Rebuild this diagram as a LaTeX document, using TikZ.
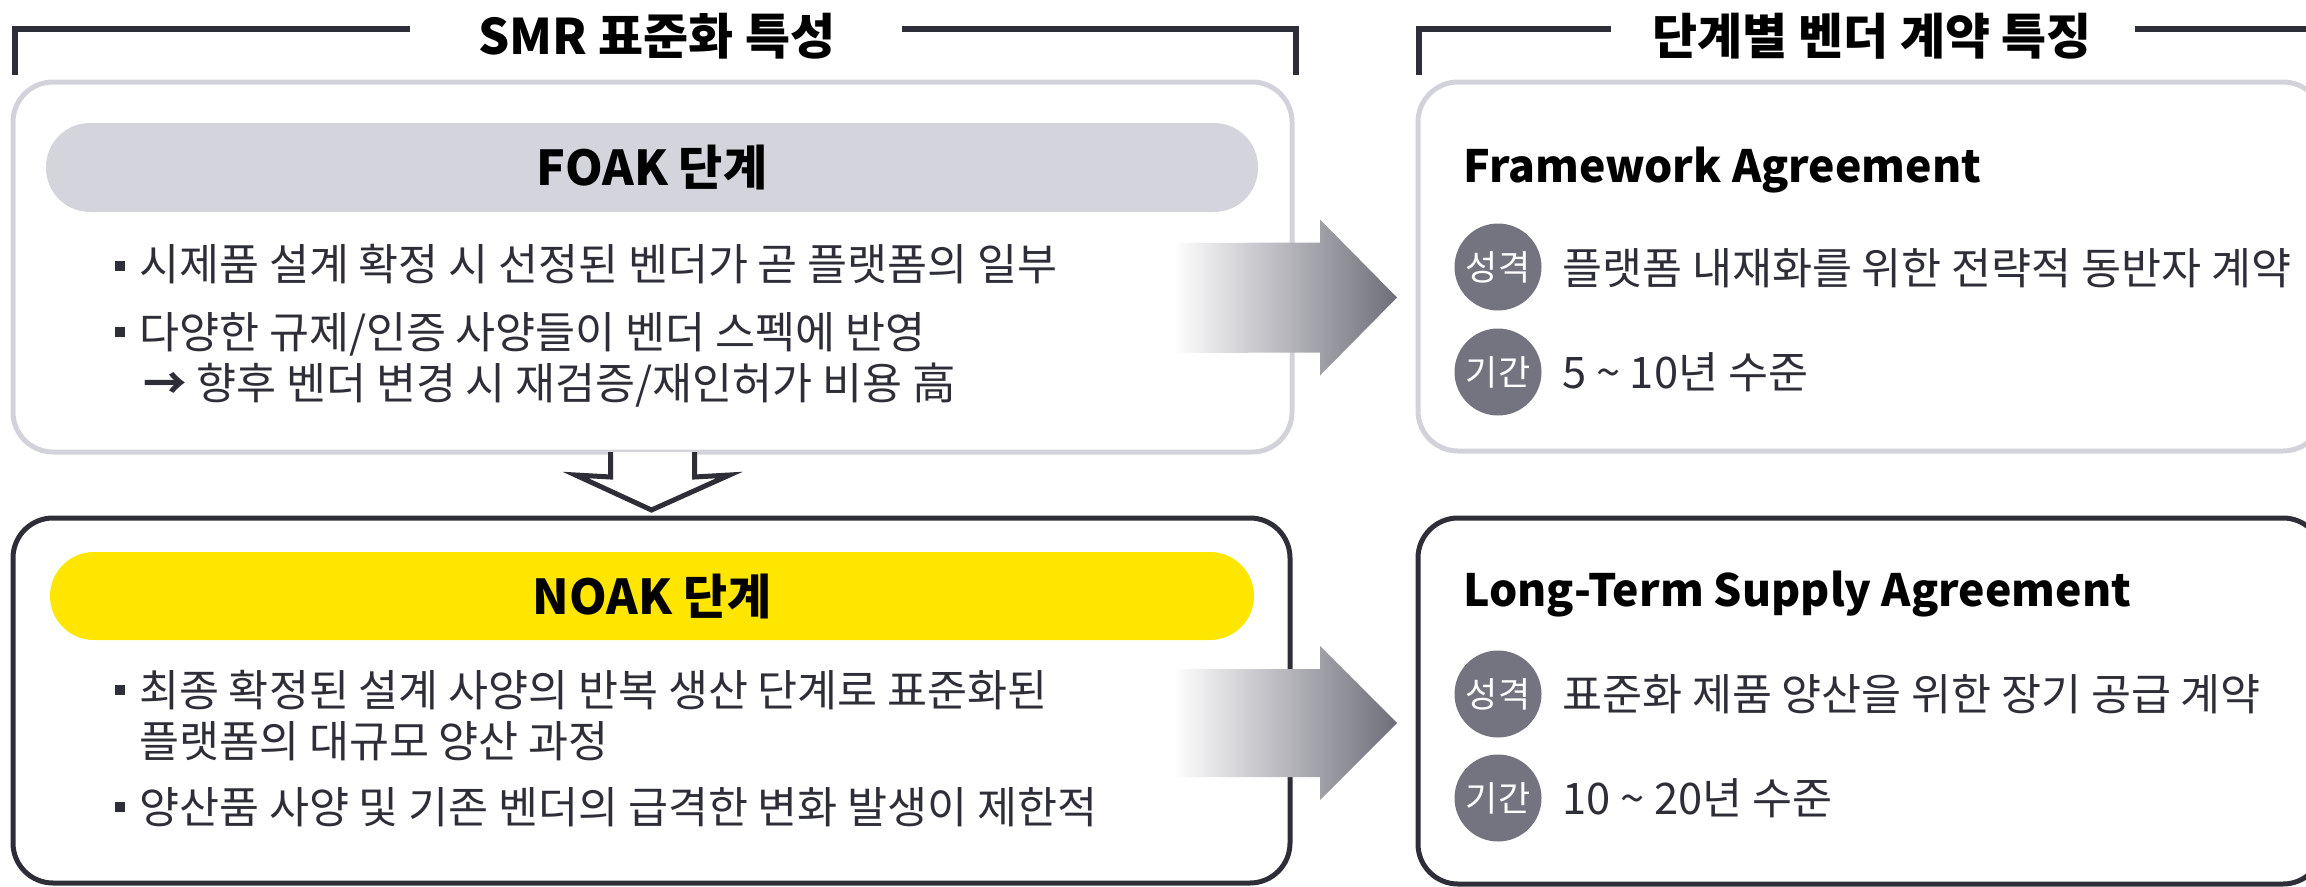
\documentclass[tikz,border=0pt]{standalone}
\usepackage{fontspec}
\setmainfont{Noto Sans CJK KR}
\usetikzlibrary{calc}
\definecolor{eydark}{HTML}{2E2E38}
\definecolor{eylight}{HTML}{D2D2DA}
\definecolor{eypill}{HTML}{D4D4DC}
\definecolor{eyyellow}{HTML}{FFE600}
\definecolor{eycircle}{HTML}{747480}
\definecolor{eytext}{HTML}{2E2E38}
\begin{document}
\begin{tikzpicture}[x=1pt,y=-1pt,
  panel/.style={draw, line width=5pt, rounded corners=40pt, inner sep=0pt, outer sep=0pt},
  pill/.style={rounded corners=44pt, inner sep=0pt, outer sep=0pt, text=black,
    font=\fontsize{48pt}{54pt}\selectfont\bfseries},
  body/.style={anchor=base west, inner sep=0pt, text=eytext,
    font=\fontsize{43.5pt}{50pt}\selectfont},
  sq/.style={fill=eytext, minimum size=10pt, inner sep=0pt},
  heads/.style={anchor=base, inner sep=0pt, text=black,
    font=\fontsize{49pt}{56pt}\selectfont\bfseries},
  cardtitle/.style={anchor=base west, inner sep=0pt, text=black,
    font=\fontsize{44.5pt}{52pt}\selectfont\bfseries},
  badge/.style={circle, fill=eycircle, minimum size=87pt, inner sep=0pt, text=white,
    font=\fontsize{35pt}{40pt}\selectfont},
  bracketline/.style={draw=eydark, line width=6pt, line join=miter},
  gradarrow/.style={left color=white, right color=eycircle!95!black},
  downarrow/.style={draw=eydark, line width=5pt, line join=miter, fill=white}]
\useasboundingbox (0,0) rectangle (2306,886);
\clip (0,0) rectangle (2306,886);

% section titles and brackets
\node[heads] (t1) at (657,54) {SMR 표준화 특성};
\node[heads] (t2) at (1872,54) {단계별 벤더 계약 특징};
\draw[bracketline] (15,75) -- (15,29) -- (410,29);
\draw[bracketline] (902,29) -- (1296,29) -- (1296,75);
\draw[bracketline] (1419,75) -- (1419,29) -- (1611,29);
\draw[bracketline] (2135,29) -- (2330,29);

% panels
\node[panel, draw=eylight, minimum width=1279pt, minimum height=370pt] (foak) at (652.5,267) {};
\node[panel, draw=eydark, minimum width=1277pt, minimum height=365pt] (noak) at (651.5,700.5) {};
\node[panel, draw=eylight, minimum width=905pt, minimum height=369pt] (fa) at (1870.5,266.5) {};
\node[panel, draw=eydark, minimum width=905pt, minimum height=366pt] (lta) at (1870.5,701) {};

% headers
\node[pill, fill=eypill, minimum width=1212pt, minimum height=89pt] (foakhead) at (652,167.5) {FOAK 단계};
\node[pill, fill=eyyellow, minimum width=1204pt, minimum height=88pt] (noakhead) at (652,596) {NOAK 단계};

% FOAK bullets
\node[sq] (fb1) at (120,266) {};
\node[body] (f1) at (139,280) {시제품 설계 확정 시 선정된 벤더가 곧 플랫폼의 일부};
\node[sq] (fb2) at (120,332) {};
\node[body] (f2) at (139,348) {다양한 규제/인증 사양들이 벤더 스펙에 반영};
\node[body] (f3) at (143,399) {{\bfseries →} 향후 벤더 변경 시 재검증/재인허가 비용 高};

% NOAK bullets
\node[sq] (nb1) at (120,690) {};
\node[body] (n1) at (139,706) {최종 확정된 설계 사양의 반복 생산 단계로 표준화된};
\node[body] (n2) at (139,757) {플랫폼의 대규모 양산 과정};
\node[sq] (nb2) at (120,807) {};
\node[body] (n3) at (139,823) {양산품 사양 및 기존 벤더의 급격한 변화 발생이 제한적};

% right cards
\node[cardtitle] (fat) at (1463,182) {Framework Agreement};
\node[badge] (fa1) at (1498,267) {성격};
\node[body] (fa1t) at (1562,284) {플랫폼 내재화를 위한 전략적 동반자 계약};
\node[badge] (fa2) at (1498,372) {기간};
\node[body] (fa2t) at (1562,388) {5 \textasciitilde{} 10년 수준};

\node[cardtitle] (ltat) at (1463,606) {Long-Term Supply Agreement};
\node[badge] (lt1) at (1498,694) {성격};
\node[body] (lt1t) at (1562,710) {표준화 제품 양산을 위한 장기 공급 계약};
\node[badge] (lt2) at (1498,798) {기간};
\node[body] (lt2t) at (1562,814) {10 \textasciitilde{} 20년 수준};

% connectors: gradient arrows
\coordinate (a1s) at ($(foak.east)+(-119,31)$);
\coordinate (a1t) at ($(fa.west)+(-21,31)$);
\shade[gradarrow] ($(a1s)+(0,-55)$) -- ($(a1t)+(-77,-55)$) -- ($(a1t)+(-77,-78)$) -- (a1t)
  -- ($(a1t)+(-77,78)$) -- ($(a1t)+(-77,55)$) -- ($(a1s)+(0,55)$) -- cycle;
\coordinate (a2s) at ($(noak.east)+(-117,22.5)$);
\coordinate (a2t) at ($(lta.west)+(-21,22)$);
\shade[gradarrow] ($(a2s)+(0,-54)$) -- ($(a2t)+(-77,-54)$) -- ($(a2t)+(-77,-77)$) -- (a2t)
  -- ($(a2t)+(-77,77)$) -- ($(a2t)+(-77,54)$) -- ($(a2s)+(0,54)$) -- cycle;

% down arrow
\draw[downarrow] ($(foak.south)+(-42,0)$) -- ($(foak.south)+(-42,25)$) -- ($(foak.south)+(-77,23)$)
  -- ($(noak.north)+(0,-8)$) -- ($(foak.south)+(77,23)$) -- ($(foak.south)+(42,25)$) -- ($(foak.south)+(42,0)$);
\end{tikzpicture}
\end{document}
